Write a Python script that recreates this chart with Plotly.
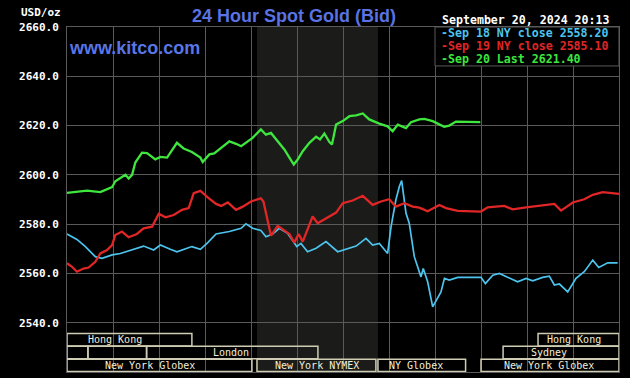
import plotly.graph_objects as go

# ---------------- data (hours ET, USD/oz) ----------------
green_h = [0, 0.43, 0.87, 1.45, 1.96, 2.1, 2.54, 2.68, 2.83, 2.97, 3.26, 3.48, 3.84, 4.06, 4.35,
           4.78, 5.07, 5.43, 5.8, 5.9, 6.19, 6.4, 6.62, 7.06, 7.35, 7.57, 8.07, 8.43, 8.65, 8.87,
           9.16, 9.45, 9.67, 9.86, 10.03, 10.25, 10.54, 10.83, 11.0, 11.19, 11.41, 11.52, 11.7, 11.99, 12.28,
           12.57, 12.86, 13.14, 13.58, 13.94, 14.16, 14.38, 14.74, 14.96, 15.32, 15.54, 15.9, 16.4, 16.62, 16.91,
           17.97]
green_v = [2592.7, 2593, 2593.6, 2593, 2595, 2597.4, 2600, 2598.5, 2600, 2605, 2609, 2608.8, 2606.3, 2607.3, 2607,
           2613, 2610.7, 2609.3, 2607, 2605.2, 2608.3, 2608.7, 2610.3, 2613.6, 2612.6, 2611.6, 2615, 2618.4, 2616.3, 2617,
           2613.6, 2610.3, 2607, 2604.2, 2606.2, 2609.6, 2613, 2615.5, 2614.4, 2616.8, 2613.3, 2612.3, 2620.4, 2621.8, 2623.8,
           2624.1, 2624.9, 2622.5, 2620.8, 2619.7, 2617.7, 2620.4, 2619, 2621.4, 2622.5, 2622.7, 2621.8, 2619.5, 2620, 2621.6,
           2621.4]

red_h = [0, 0.22, 0.43, 0.72, 0.94, 1.23, 1.45, 1.74, 1.96, 2.1, 2.39, 2.68, 3.04, 3.33, 3.7,
         3.99, 4.28, 4.64, 5.0, 5.29, 5.51, 5.8, 6.12, 6.48, 6.7, 6.99, 7.35, 7.64, 8.0, 8.43,
         8.54, 8.72, 8.87, 9.16, 9.45, 9.67, 9.88, 10.07, 10.25, 10.68, 10.9, 11.26, 11.7, 11.99, 12.42,
         12.86, 13.29, 13.65, 14.01, 14.3, 14.67, 15.03, 15.32, 15.68, 16.19, 16.48, 16.99, 18.0, 18.29, 19.01,
         19.38, 19.96, 20.54, 21.19, 21.48, 21.99, 22.49, 22.86, 23.29, 24.0]
red_v = [2564.1, 2562.7, 2560.7, 2562, 2562.4, 2564.7, 2568.1, 2569.5, 2571.5, 2575.6, 2577, 2574.7, 2576, 2578.3, 2579,
         2584.2, 2582.8, 2583.7, 2585.8, 2586.5, 2592.6, 2593.5, 2590.9, 2588.2, 2587.4, 2588.8, 2585.8, 2587.1, 2589.2, 2590.5,
         2589.2, 2581.8, 2575.3, 2579.3, 2577.4, 2576, 2572.5, 2576, 2572.9, 2583.1, 2580.4, 2582.4, 2584.7, 2588.5, 2589.6,
         2591.5, 2587.8, 2589.2, 2590.1, 2587.1, 2588.5, 2587.1, 2586.7, 2585.2, 2587.8, 2586.5, 2585.4, 2585.1, 2586.8, 2587.4,
         2586, 2586.8, 2587.4, 2588.2, 2585.5, 2588.8, 2590.1, 2591.9, 2593, 2592.3]

blue_h = [0, 0.43, 0.8, 1.23, 1.52, 1.96, 2.32, 2.83, 3.33, 3.77, 4.06, 4.49, 4.78, 5.43, 5.8,
          6.12, 6.48, 7.06, 7.57, 7.78, 8.07, 8.43, 8.65, 8.94, 9.23, 9.59, 9.81, 9.99, 10.17, 10.46,
          10.83, 11.26, 11.77, 12.13, 12.57, 13.0, 13.29, 13.58, 13.94, 14.09, 14.3, 14.45, 14.55, 14.74, 14.88,
          15.1, 15.25, 15.39, 15.49, 15.68, 15.9, 16.12, 16.26, 16.41, 16.62, 16.99, 18.0, 18.19, 18.51, 18.8,
          19.23, 19.59, 19.96, 20.25, 20.68, 20.97, 21.19, 21.41, 21.77, 22.13, 22.49, 22.86, 23.12, 23.51, 23.94]
blue_v = [2576, 2573.8, 2570.9, 2566.8, 2566.1, 2567.5, 2568.1, 2569.5, 2571.1, 2569.5, 2571.5, 2569.8, 2568.8, 2570.9, 2569.8,
          2572.5, 2576, 2577, 2578.3, 2580.1, 2578.3, 2577.4, 2574.9, 2576, 2578.3, 2576.3, 2573.6, 2570.9, 2572.2, 2568.8,
          2570.2, 2572.9, 2568.8, 2569.8, 2571.1, 2574.2, 2571.5, 2572.2, 2568.1, 2579, 2589.9, 2595.3, 2597.7, 2584.4, 2580.4,
          2566.8, 2562.7, 2558.6, 2562, 2556.6, 2546.4, 2550.5, 2552.5, 2558, 2557.3, 2558.4, 2558.4, 2555.9, 2559.3, 2560,
          2558, 2556.6, 2558, 2557, 2558.4, 2558.9, 2555.3, 2555.7, 2552.5, 2558, 2560.7, 2565.4, 2562.4, 2564.3, 2564.3]

legend_labels = ["-Sep 18 NY close 2558.20", "-Sep 19 NY close 2585.10", "-Sep 20 Last 2621.40"]
series_colors = ["#4cc4ee", "#e02626", "#3ee63e"]

# market sessions: (label, start hour, end hour, row, label hour)
session_names = ["Hong Kong", "Hong Kong", "", "", "London", "Sydney",
                 "New York Globex", "New York NYMEX", "NY Globex", "New York Globex"]
session_start = [0, 20.48, 0, 0.91, 3.46, 18.96, 0, 8.26, 13.52, 18.0]
session_end = [5.43, 24, 0.91, 3.46, 10.91, 24, 8.04, 13.43, 17.33, 24]
session_row = [1, 1, 2, 2, 2, 2, 3, 3, 3, 3]
session_label_h = [2.1, 22.05, 0.45, 2.2, 7.13, 20.97, 3.6, 10.87, 15.17, 20.96]

nymex_shade = [8.26, 13.52]
y_ticks = [2520, 2540, 2560, 2580, 2600, 2620, 2640, 2660]

# ---------------- figure ----------------
fig = go.Figure()
fig.add_trace(go.Scatter(x=blue_h, y=blue_v, mode="lines",
                         line=dict(color=series_colors[0], width=1.7), hoverinfo="skip"))
fig.add_trace(go.Scatter(x=red_h, y=red_v, mode="lines",
                         line=dict(color=series_colors[1], width=2.3), hoverinfo="skip"))
fig.add_trace(go.Scatter(x=green_h, y=green_v, mode="lines",
                         line=dict(color=series_colors[2], width=2.3), hoverinfo="skip"))

grid = "#5a5a5a"
mono = "DejaVu Sans Mono"

shapes = []
# NYMEX shading
shapes.append(dict(type="rect", xref="x", yref="y", x0=nymex_shade[0], x1=nymex_shade[1],
                   y0=2520, y1=2660, fillcolor="#1b1c19", line=dict(width=0), layer="below"))

# session boxes
row_y = {1: (2530.6, 2535.6), 2: (2525.4, 2530.4), 3: (2520.2, 2525.2)}
annotations = []
for name, s, e, r, lh in zip(session_names, session_start, session_end, session_row, session_label_h):
    y0, y1 = row_y[r]
    shapes.append(dict(type="rect", xref="x", yref="y", x0=s, x1=e, y0=y0, y1=y1,
                       line=dict(color="#cfcdb4", width=1.5), fillcolor="rgba(0,0,0,0)", layer="above"))
    if name:
        annotations.append(dict(x=lh, y=(y0 + y1) / 2, xref="x", yref="y", text=name, showarrow=False,
                                font=dict(family=mono, size=10, color="#f2efdc"),
                                xanchor="center", yanchor="middle"))

# legend box
shapes.append(dict(type="rect", xref="x", yref="y", x0=16, x1=24, y0=2644.2, y1=2660,
                   fillcolor="#000000", line=dict(color=grid, width=1), layer="above"))

leg_y = [0.9812, 0.9444, 0.9072]
for lab, col, yy in zip(legend_labels, series_colors, leg_y):
    annotations.append(dict(x=0.675, y=yy, xref="paper", yref="paper", text="<b>" + lab + "</b>",
                            showarrow=False, xanchor="left", yanchor="middle", borderpad=0,
                            font=dict(family=mono, size=11.6, color=col)))

annotations += [
    dict(x=0.411, y=1.032, xref="paper", yref="paper", text="<b>24 Hour Spot Gold (Bid)</b>",
         showarrow=False, xanchor="center", yanchor="middle",
         font=dict(family="Liberation Sans", size=18, color="#5a72e2")),
    dict(x=0.0, y=0.939, xref="paper", yref="paper", text="<b>www.kitco.com</b>",
         showarrow=False, xanchor="left", yanchor="middle",
         font=dict(family="Liberation Sans", size=18, color="#5a76e6")),
    dict(x=0.675, y=1.0203, xref="paper", yref="paper", text="<b>September 20, 2024 20:13</b>",
         showarrow=False, xanchor="left", yanchor="middle",
         font=dict(family=mono, size=11.6, color="#ffffff")),
    dict(x=0.0, y=1.0406, xref="paper", yref="paper", text="<b>USD/oz</b>", xshift=-4,
         showarrow=False, xanchor="right", yanchor="middle",
         font=dict(family=mono, size=11, color="#ffffff")),
]

fig.update_layout(
    width=630, height=378,
    margin=dict(l=67, r=11, t=27, b=6),
    paper_bgcolor="#000000", plot_bgcolor="#000000",
    showlegend=False,
    shapes=shapes, annotations=annotations,
    xaxis=dict(range=[0, 24], tick0=0, dtick=2, showticklabels=False, ticks="",
               showgrid=True, gridcolor=grid, gridwidth=1, zeroline=False,
               showline=True, linecolor=grid, mirror=True, fixedrange=True),
    yaxis=dict(range=[2520, 2660], tickvals=y_ticks, tickformat=".1f", ticks="",
               showgrid=True, gridcolor=grid, gridwidth=1, zeroline=False,
               showline=True, linecolor=grid, mirror=True, ticklabelstandoff=5,
               tickfont=dict(family=mono, size=11, color="#ffffff", weight="bold"),
               fixedrange=True),
)

fig.write_html("out.html")
